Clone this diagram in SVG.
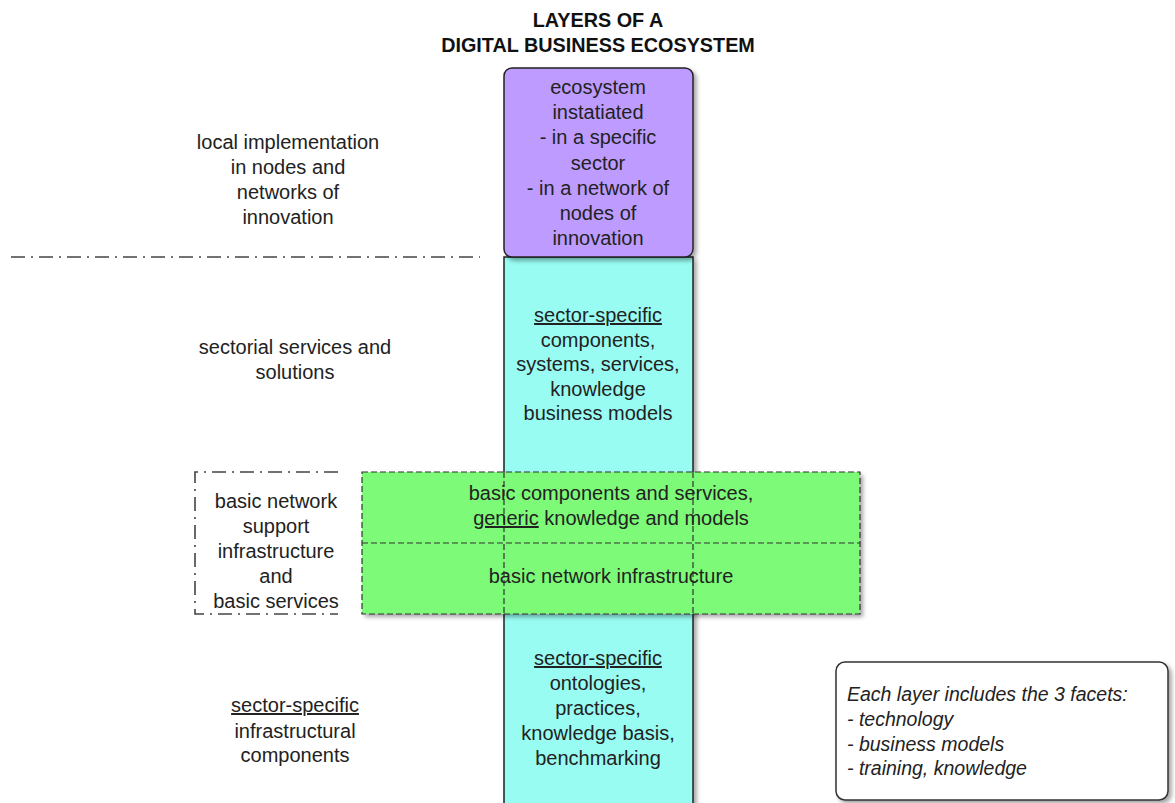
<svg xmlns="http://www.w3.org/2000/svg" width="1175" height="803" viewBox="0 0 1175 803">
<defs>
<filter id="sh" x="-10%" y="-10%" width="130%" height="130%">
<feDropShadow dx="3" dy="3" stdDeviation="2" flood-color="#000" flood-opacity="0.35"/>
</filter>
<style>
text{font-family:"Liberation Sans",Arial,Helvetica,sans-serif;font-size:20px;fill:#222;text-anchor:middle}
.title{font-weight:bold;font-size:19.8px;fill:#111}
.note{font-style:italic;font-size:19.5px;text-anchor:start}
.u{text-decoration:underline}
.dd{fill:none;stroke:#444;stroke-width:1.6;stroke-dasharray:14 6 2 6}
.dash{fill:none;stroke:#333;stroke-width:1.2;stroke-dasharray:6 3}
</style>
</defs>
<rect width="1175" height="803" fill="#fff"/>
<g id="title">
<text class="title" x="598" y="27">LAYERS OF A</text>
<text class="title" x="598" y="52">DIGITAL BUSINESS ECOSYSTEM</text>
</g>
<g id="separators">
<line class="dd" x1="11" y1="257" x2="480" y2="257"/>
<path class="dd" d="M338 472 H195 V614 H338"/>
</g>
<g id="cyan-column">
<rect x="504" y="257" width="189" height="560" fill="#98fcf2" stroke="#222" stroke-width="1.5" filter="url(#sh)"/>
<text x="598" y="322"><tspan class="u">sector-specific</tspan></text>
<text x="598" y="346.5">components,</text>
<text x="598" y="371">systems, services,</text>
<text x="598" y="395.5">knowledge</text>
<text x="598" y="420">business models</text>
<text x="598" y="665"><tspan class="u">sector-specific</tspan></text>
<text x="598" y="690">ontologies,</text>
<text x="598" y="715">practices,</text>
<text x="598" y="740">knowledge basis,</text>
<text x="598" y="765">benchmarking</text>
</g>
<g id="purple-node">
<rect x="504" y="68" width="189" height="189" rx="8" ry="8" fill="#bd9bff" stroke="#222" stroke-width="1.5" filter="url(#sh)"/>
<text x="598" y="94">ecosystem</text>
<text x="598" y="119">instatiated</text>
<text x="598" y="144">- in a specific</text>
<text x="598" y="169.5">sector</text>
<text x="598" y="194.5">- in a network of</text>
<text x="598" y="220">nodes of</text>
<text x="598" y="245">innovation</text>
</g>
<g id="green-node">
<rect x="362" y="472" width="498" height="142" fill="#7cfa78" filter="url(#sh)"/>
<rect class="dash" x="362" y="472" width="498" height="142"/>
<line class="dash" x1="362" y1="543" x2="860" y2="543"/>
<line class="dash" x1="504" y1="472" x2="504" y2="614"/>
<line class="dash" x1="693" y1="472" x2="693" y2="614"/>
<text x="611" y="500">basic components and services,</text>
<text x="611" y="525"><tspan class="u">generic</tspan> knowledge and models</text>
<text x="611" y="583">basic network infrastructure</text>
</g>
<g id="left-labels">
<text x="288" y="149">local implementation</text>
<text x="288" y="174">in nodes and</text>
<text x="288" y="199">networks of</text>
<text x="288" y="223.5">innovation</text>
<text x="295" y="354">sectorial services and</text>
<text x="295" y="379">solutions</text>
<text x="276" y="508">basic network</text>
<text x="276" y="533">support</text>
<text x="276" y="558">infrastructure</text>
<text x="276" y="583">and</text>
<text x="276" y="608">basic services</text>
<text x="295" y="712"><tspan class="u">sector-specific</tspan></text>
<text x="295" y="738">infrastructural</text>
<text x="295" y="762">components</text>
</g>
<g id="note">
<rect x="836" y="662" width="332" height="138" rx="9" ry="9" fill="#fff" stroke="#333" stroke-width="1.5" filter="url(#sh)"/>
<text class="note" x="847" y="701">Each layer includes the 3 facets:</text>
<text class="note" x="847" y="726">- technology</text>
<text class="note" x="847" y="751">- business models</text>
<text class="note" x="847" y="775">- training, knowledge</text>
</g>
<g id="connectors"></g>
</svg>
